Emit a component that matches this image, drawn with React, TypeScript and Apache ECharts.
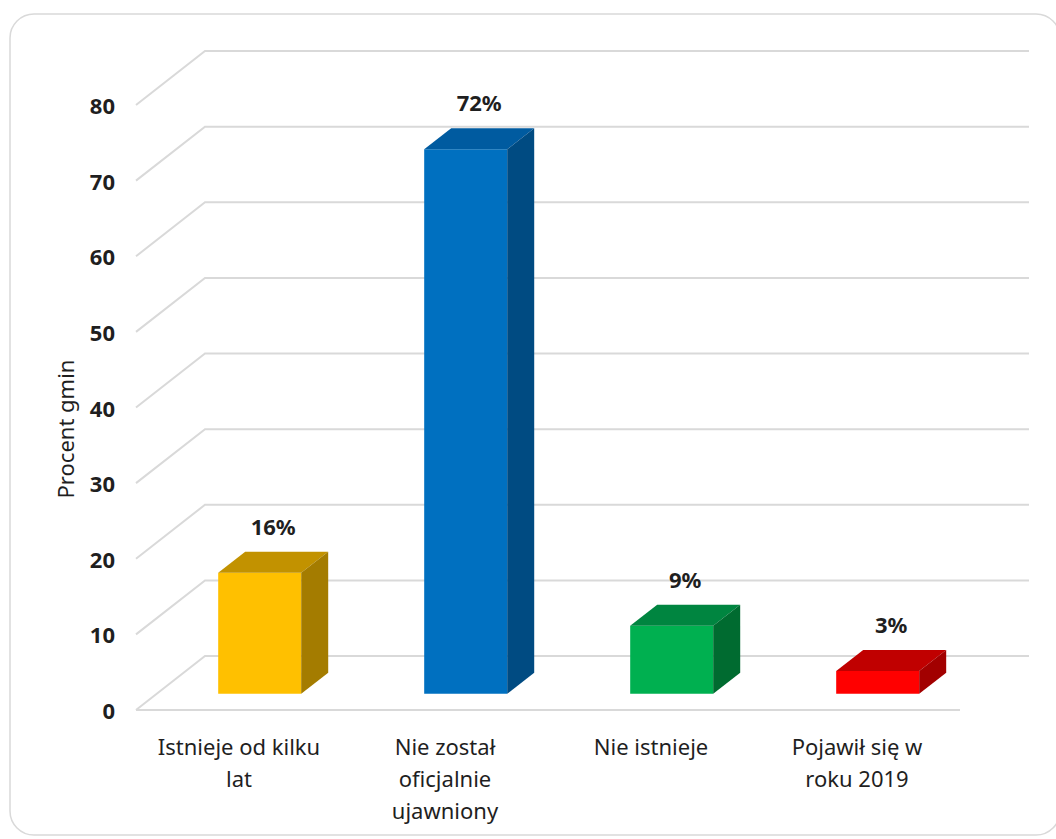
import React, { useEffect, useRef } from "react";
import * as echarts from "echarts";

const categories = [
  "Istnieje od kilku\nlat",
  "Nie został\noficjalnie\nujawniony",
  "Nie istnieje",
  "Pojawił się w\nroku 2019",
];
const values = [16, 72, 9, 3];
const valueLabels = ["16%", "72%", "9%", "3%"];
const yTicks = [0, 10, 20, 30, 40, 50, 60, 70, 80];
const yTitle = "Procent gmin";
const frontColors = ["#FFC000", "#0070C0", "#00B050", "#FF0000"];
const topColors = ["#C29200", "#005BA0", "#008540", "#C00000"];
const sideColors = ["#A47C00", "#004B82", "#006B30", "#A20000"];

const FONT = "'Noto Sans', 'DejaVu Sans', sans-serif";
const TXT = "#1f1f1f";
const GRID = "#d9d9d9";
// floor depth (perspective offset of back wall)
const DX = 69;
const DY = 54;
// bar front plane fraction of the depth, and bar depth offset
const F = 0.3;
const BDX = 27;
const BDY = 21;

export default function App() {
  const ref = useRef<HTMLDivElement>(null);
  useEffect(() => {
    if (!ref.current) return;
    const chart = echarts.init(ref.current, null, { renderer: "svg" });
    const option: any = {
      animation: false,
      backgroundColor: "#ffffff",
      grid: { left: 136, right: 96, top: 105, bottom: 129 },
      xAxis: {
        type: "category",
        data: categories,
        axisLine: { show: false },
        axisTick: { show: false },
        axisLabel: {
          interval: 0,
          margin: 20,
          fontFamily: FONT,
          fontSize: 22,
          lineHeight: 32,
          color: TXT,
        },
      },
      yAxis: {
        type: "value",
        min: 0,
        max: 80,
        interval: 10,
        axisLine: { show: false },
        axisTick: { show: false },
        splitLine: { show: false },
        axisLabel: {
          margin: 21,
          fontFamily: FONT,
          fontSize: 22,
          fontWeight: "bold",
          color: TXT,
        },
      },
      graphic: [
        {
          type: "rect",
          shape: { x: 10, y: 14, width: 1050, height: 821, r: 24 },
          style: { fill: "none", stroke: "#d9d9d9", lineWidth: 1.5 },
          silent: true,
          z: -10,
        },
        {
          type: "text",
          x: 65,
          y: 429,
          rotation: Math.PI / 2,
          style: {
            text: yTitle,
            align: "center",
            verticalAlign: "middle",
            fontFamily: FONT,
            fontSize: 22,
            fill: TXT,
          },
        },
      ],
      series: [
        {
          type: "custom",
          z: 1,
          silent: true,
          encode: { x: 0, y: 1 },
          data: yTicks.map((v) => [0, v]),
          renderItem: (params: any, api: any) => {
            const cs = params.coordSys;
            const v = api.value(1);
            const y = api.coord([0, v])[1];
            const x0 = cs.x;
            const x1 = cs.x + cs.width;
            const children: any[] = [
              {
                type: "polyline",
                shape: {
                  points: [
                    [x0, y],
                    [x0 + DX, y - DY],
                    [x1 + DX, y - DY],
                  ],
                },
                style: { stroke: GRID, lineWidth: 2, fill: null },
              },
            ];
            if (v === 0) {
              children.push({
                type: "line",
                shape: { x1: x0, y1: y, x2: x1, y2: y },
                style: { stroke: GRID, lineWidth: 2 },
              });
            }
            return { type: "group", children };
          },
        },
        {
          type: "custom",
          z: 5,
          encode: { x: 0, y: 1 },
          data: values.map((v, i) => [i, v]),
          renderItem: (params: any, api: any) => {
            const i = api.value(0);
            const v = api.value(1);
            const top = api.coord([i, v]);
            const base = api.coord([i, 0]);
            const bw = api.size([1, 0])[0] * 0.403;
            const fl = top[0] - bw / 2 + F * DX;
            const ty = top[1] - F * DY;
            const by = base[1] - F * DY;
            return {
              type: "group",
              children: [
                {
                  type: "rect",
                  shape: { x: fl, y: ty, width: bw, height: by - ty },
                  style: { fill: frontColors[i] },
                },
                {
                  type: "polygon",
                  shape: {
                    points: [
                      [fl, ty],
                      [fl + bw, ty],
                      [fl + bw + BDX, ty - BDY],
                      [fl + BDX, ty - BDY],
                    ],
                  },
                  style: { fill: topColors[i] },
                },
                {
                  type: "polygon",
                  shape: {
                    points: [
                      [fl + bw, ty],
                      [fl + bw + BDX, ty - BDY],
                      [fl + bw + BDX, by - BDY],
                      [fl + bw, by],
                    ],
                  },
                  style: { fill: sideColors[i] },
                },
                {
                  type: "text",
                  x: fl + bw / 2 + BDX / 2,
                  y: ty - BDY - 26,
                  style: {
                    text: valueLabels[i],
                    align: "center",
                    verticalAlign: "middle",
                    fontFamily: FONT,
                    fontSize: 22,
                    fontWeight: "bold",
                    fill: TXT,
                  },
                },
              ],
            };
          },
        },
      ],
    };
    chart.setOption(option);
    return () => chart.dispose();
  }, []);
  return (
    <div
      ref={ref}
      style={{ position: "absolute", left: 0, top: 0, width: 1056, height: 839 }}
    />
  );
}
